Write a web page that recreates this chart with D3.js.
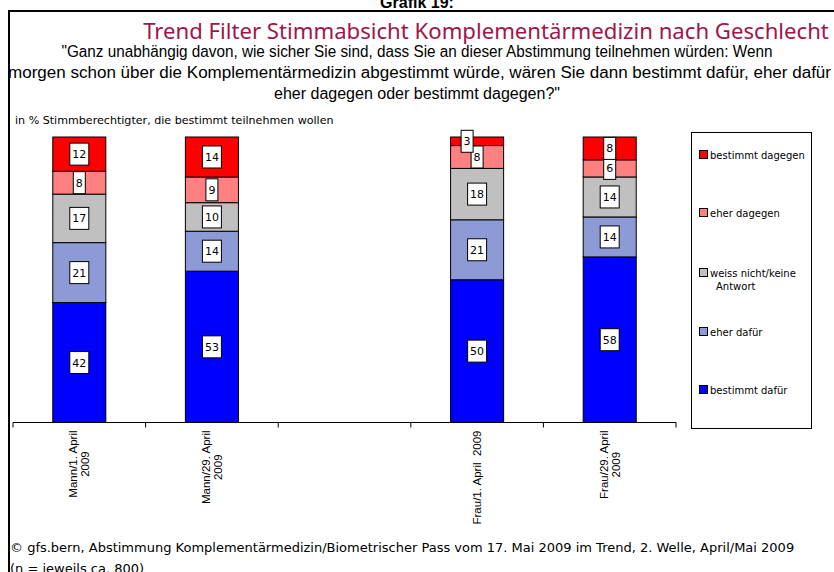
<!DOCTYPE html>
<html>
<head>
<meta charset="utf-8">
<script src="https://cdn.jsdelivr.net/npm/d3@7"></script>
<style>
  body { margin: 0; background: #fff; }
  svg { display: block; }
</style>
</head>
<body>
<svg id="chart" width="834" height="572"></svg>
<script>
// categories (the empty slot in the middle is a gap in the original)
const categories = ["Mann/1. April 2009", "Mann/29. April 2009", "", "Frau/1. April 2009", "Frau/29. April 2009"];
const tickLabels = [["Mann/1. April", "2009"], ["Mann/29. April", "2009"], [], ["Frau/1. April  2009"], ["Frau/29. April", "2009"]];

// series, bottom to top of the stack
const seriesNames = ["bestimmt dafür", "eher dafür", "weiss nicht/keine Antwort", "eher dagegen", "bestimmt dagegen"];
const bestimmtDafuer  = [42, 53, null, 50, 58];
const eherDafuer      = [21, 14, null, 21, 14];
const weissNicht      = [17, 10, null, 18, 14];
const eherDagegen     = [8, 9, null, 8, 6];
const bestimmtDagegen = [12, 14, null, 3, 8];
const seriesValues = [bestimmtDafuer, eherDafuer, weissNicht, eherDagegen, bestimmtDagegen];
const seriesColors = ["#0000ff", "#8e9ad6", "#c0c0c0", "#ff8080", "#ff0000"];

const titleText = "Trend Filter Stimmabsicht Komplementärmedizin nach Geschlecht";
const questionLines = [
  "\"Ganz unabhängig davon, wie sicher Sie sind, dass Sie an dieser Abstimmung teilnehmen würden: Wenn",
  "morgen schon über die Komplementärmedizin abgestimmt würde, wären Sie dann bestimmt dafür, eher dafür",
  "eher dagegen oder bestimmt dagegen?\""
];
const unitText = "in % Stimmberechtigter, die bestimmt teilnehmen wollen";
const footerLines = [
  "© gfs.bern, Abstimmung Komplementärmedizin/Biometrischer Pass vom 17. Mai 2009 im Trend, 2. Welle, April/Mai 2009",
  "(n = jeweils ca. 800)"
];

const tahoma = "'DejaVu Sans', Verdana, sans-serif";
const arial = "'Liberation Sans', Arial, sans-serif";

const svg = d3.select("#chart");

// shrink or grow a text's font size so it spans a given width
function fitWidth(sel, target) {
  const fs = parseFloat(sel.style("font-size"));
  const w = sel.node().getComputedTextLength();
  sel.style("font-size", (fs * target / w).toFixed(2) + "px");
}

// build rows for d3.stack
const rows = categories.map((c, i) => {
  const r = { cat: c };
  seriesNames.forEach((s, j) => { r[s] = seriesValues[j][i] || 0; });
  r.empty = seriesValues[0][i] == null;
  return r;
});
const stacked = d3.stack().keys(seriesNames)(rows);

// frame and header
svg.append("text")
  .attr("x", 417).attr("y", 8)
  .attr("text-anchor", "middle")
  .style("font-family", arial).style("font-weight", "bold").style("font-size", "16px")
  .text("Grafik 19:");

svg.append("line").attr("x1", 8).attr("x2", 834).attr("y1", 11).attr("y2", 11)
  .attr("stroke", "#000").attr("stroke-width", 2);
svg.append("line").attr("x1", 9).attr("x2", 9).attr("y1", 10).attr("y2", 572)
  .attr("stroke", "#000").attr("stroke-width", 2);

const title = svg.append("text")
  .attr("x", 486).attr("y", 39)
  .attr("text-anchor", "middle")
  .style("font-family", "'Noto Sans', 'Open Sans', sans-serif").style("font-size", "22px")
  .attr("fill", "#a0154a")
  .text(titleText);
fitWidth(title, 686);

// question lines: one size, each line spread to the width it has in the original
const questionWidths = [711, 823, 286];
svg.selectAll("text.question")
  .data(questionLines)
  .join("text")
  .attr("class", "question")
  .attr("x", (d, i) => i === 1 ? 419.5 : 417)
  .attr("y", (d, i) => 57 + i * 21)
  .attr("text-anchor", "middle")
  .attr("textLength", (d, i) => questionWidths[i])
  .attr("lengthAdjust", "spacingAndGlyphs")
  .style("font-family", arial).style("font-size", "16px")
  .text(d => d);

svg.append("text")
  .attr("x", 15).attr("y", 124)
  .style("font-family", tahoma).style("font-size", "11.1px")
  .text(unitText);

// scales
const x = d3.scaleBand()
  .domain(categories.map((c, i) => i))
  .range([13, 676])
  .paddingInner(0.6)
  .paddingOuter(0.3);

const y = d3.scaleLinear().domain([0, 100]).range([422.5, 137]);

// bars
const layer = svg.append("g").selectAll("g")
  .data(stacked)
  .join("g")
  .attr("fill", (d, i) => seriesColors[i]);

layer.selectAll("rect")
  .data(d => d.map((v, i) => ({ v, i })).filter(o => !o.v.data.empty))
  .join("rect")
  .attr("x", o => x(o.i))
  .attr("width", x.bandwidth())
  .attr("y", o => y(o.v[1]))
  .attr("height", o => y(o.v[0]) - y(o.v[1]))
  .attr("stroke", "#000")
  .attr("stroke-width", 1);

// value labels in white boxes
const labels = [];
stacked.forEach((s, j) => {
  s.forEach((v, i) => {
    if (rows[i].empty) return;
    const val = seriesValues[j][i];
    labels.push({ val, i, mid: (v[0] + v[1]) / 2, small: val < 5 });
  });
});

const lab = svg.append("g").selectAll("g")
  .data(labels)
  .join("g")
  .attr("transform", d => `translate(${x(d.i) + x.bandwidth() / 2 + (d.small ? -10 : 0)},${y(d.mid)})`);

lab.append("text")
  .attr("text-anchor", "middle")
  .attr("dy", "0.36em")
  .style("font-family", tahoma).style("font-size", "11px")
  .text(d => d.val);

lab.insert("rect", "text")
  .each(function () {
    const t = d3.select(this.parentNode).select("text").node();
    const w = t.getComputedTextLength();
    d3.select(this)
      .attr("x", -w / 2 - 2.5).attr("width", w + 5)
      .attr("y", -11).attr("height", 22);
  })
  .attr("fill", "#fff")
  .attr("stroke", "#000")
  .attr("stroke-width", 1);

// x axis with boundary ticks
const axisY = 422.5;
svg.append("line")
  .attr("x1", 13).attr("x2", 676).attr("y1", axisY).attr("y2", axisY)
  .attr("stroke", "#000");
const step = x.step();
svg.append("g").selectAll("line")
  .data(d3.range(categories.length + 1))
  .join("line")
  .attr("x1", i => 13 + i * step).attr("x2", i => 13 + i * step)
  .attr("y1", axisY).attr("y2", axisY + 5)
  .attr("stroke", "#000");

const tl = svg.append("g").selectAll("text")
  .data(tickLabels.map((lines, i) => ({ lines, i })))
  .join("text")
  .attr("transform", d => `translate(${x(d.i) + x.bandwidth() / 2},${axisY + 8}) rotate(-90)`)
  .attr("text-anchor", "end")
  .attr("xml:space", "preserve")
  .style("white-space", "pre")
  .style("font-family", arial).style("font-size", "11.5px");

tl.each(function (d) {
  const n = d.lines.length;
  d3.select(this).selectAll("tspan")
    .data(d.lines)
    .join("tspan")
    .attr("x", 0)
    .attr("y", (l, k) => (k - (n - 1) / 2) * 12 + 4)
    .text(l => l);
});
// second lines are centred under the first one
tl.each(function (d) {
  if (d.lines.length < 2) return;
  const spans = d3.select(this).selectAll("tspan").nodes();
  const w0 = spans[0].getComputedTextLength();
  spans.slice(1).forEach(s => {
    const w = s.getComputedTextLength();
    d3.select(s).attr("x", -(w0 - w) / 2);
  });
});

// legend
const legend = svg.append("g");
legend.append("rect")
  .attr("x", 691.5).attr("y", 132.5).attr("width", 120).attr("height", 296)
  .attr("fill", "#fff").attr("stroke", "#000");

const legendOrder = [4, 3, 2, 1, 0];
const legendY = [155, 213, 273, 332, 390];
const legendWrap = { "weiss nicht/keine Antwort": ["weiss nicht/keine", "Antwort"] };

const li = legend.selectAll("g.item")
  .data(legendOrder)
  .join("g")
  .attr("class", "item")
  .attr("transform", (d, k) => `translate(699,${legendY[k]})`);

li.append("rect")
  .attr("x", 0.5).attr("y", -4.5).attr("width", 8).attr("height", 8)
  .attr("fill", d => seriesColors[d]).attr("stroke", "#000");

li.append("text")
  .attr("x", 11)
  .style("font-family", tahoma).style("font-size", "10px")
  .each(function (d) {
    const lines = legendWrap[seriesNames[d]] || [seriesNames[d]];
    d3.select(this).selectAll("tspan")
      .data(lines)
      .join("tspan")
      .attr("x", (l, k) => k ? 17 : 11)
      .attr("y", (l, k) => 4 + k * 13)
      .text(l => l);
  });

// footer
svg.selectAll("text.footer")
  .data(footerLines)
  .join("text")
  .attr("class", "footer")
  .attr("x", 10)
  .attr("y", (d, i) => 552 + i * 21)
  .style("font-family", tahoma).style("font-size", "13px")
  .text(d => d);
</script>
</body>
</html>
